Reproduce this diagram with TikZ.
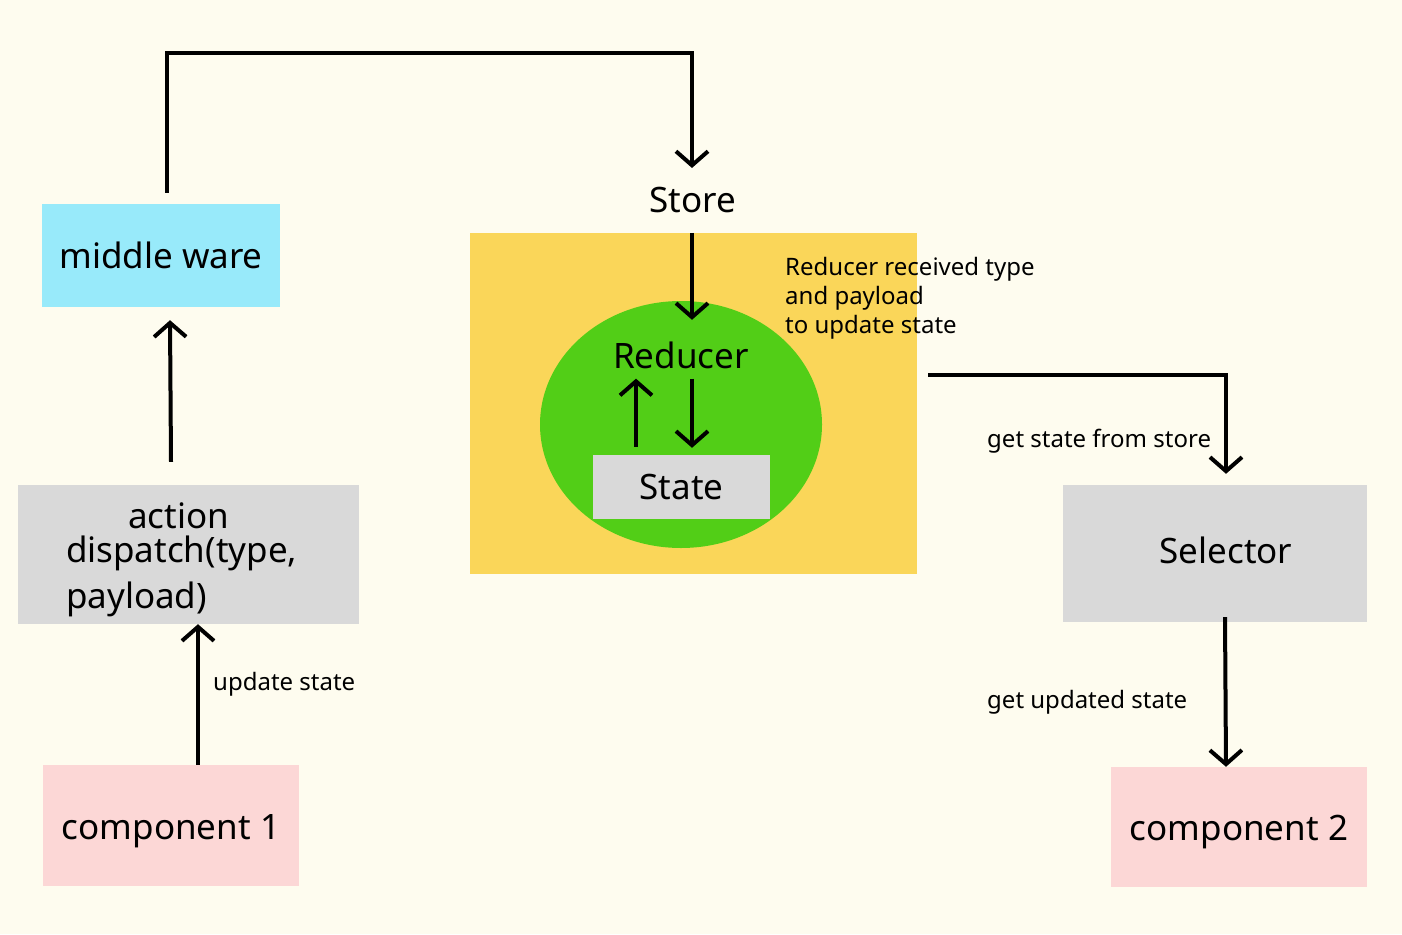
\documentclass[tikz,border=0pt]{standalone}
\usepackage{fontspec}
\setmainfont{Noto Sans}
\usetikzlibrary{arrows.meta,shapes.geometric,calc}
\definecolor{paper}{RGB}{254,252,239}
\definecolor{wareblue}{RGB}{152,234,250}
\definecolor{boxgray}{RGB}{217,217,217}
\definecolor{comppink}{RGB}{252,215,214}
\definecolor{storeyellow}{RGB}{250,214,89}
\definecolor{reducergreen}{RGB}{82,206,23}
\tikzset{
  flow/.style={line width=4pt, -{Straight Barb[length=14pt,width=32pt]}},
  box/.style={inner sep=0pt, font=\fontsize{35}{34}\selectfont},
  note/.style={inner sep=0pt, anchor=west, align=left, font=\fontsize{24}{29}\selectfont},
}
\begin{document}
\begin{tikzpicture}[x={(1pt, 0pt)}, y={(0pt, -1pt)}]
  \fill[paper] (0, 0) rectangle (1402, 934);
  \useasboundingbox (0, 0) rectangle (1402, 934);

  \node[box, fill=wareblue, minimum width=238pt, minimum height=103pt] (ware) at (161, 255.5) {middle ware};
  \node[box, fill=boxgray, minimum width=341pt, minimum height=139pt, text width=245pt, align=left] (action) at (188.5, 554.5)
    {\rule{0pt}{36pt}\hspace*{62pt}action\\dispatch(type,\\[10pt]payload)};
  \node[box, fill=comppink, minimum width=256pt, minimum height=121pt, text height=35pt, text depth=8pt] (comp1) at (171, 825.5) {component 1};

  \node[box] (store) at (693, 200) {Store};
  \node[fill=storeyellow, minimum width=447pt, minimum height=341pt, inner sep=0pt] (storebox) at (693.5, 403.5) {};
  \node[ellipse, fill=reducergreen, minimum width=282pt, minimum height=247pt, inner sep=0pt] (reducer) at (681, 424.5) {};
  \node[box] (reducertxt) at (681, 355) {Reducer};
  \node[box, fill=boxgray, minimum width=177pt, minimum height=64pt] (state) at (681.5, 487) {State};

  \node[box, fill=boxgray, minimum width=304pt, minimum height=137pt, text height=26pt, text depth=5.5pt] (selector) at (1215, 553.5) {\hspace*{22pt}Selector};
  \node[box, fill=comppink, minimum width=256pt, minimum height=120pt, text height=35pt, text depth=8pt] (comp2) at (1239, 827) {component 2};

  \node[note] (received) at (785, 298) {Reducer received type\\and payload\\to update state};
  \node[note] (update) at (213, 684) {update state};
  \node[note] (getstate) at (987, 441) {get state from store};
  \node[note] (getupdated) at (987, 702) {get updated state};

  \draw[flow] ([xshift=27pt]comp1.north) -- ([xshift=9.5pt]action.south);
  \draw[flow] ([xshift=-17.5pt, yshift=23pt]action.north) -- ([xshift=9pt, yshift=-13pt]ware.south);
  \draw[flow] ([xshift=6pt, yshift=11pt]ware.north) -- ++(0, -140) -| ($(store.north) + (-1, -19)$);
  \draw[flow] ($(storebox.north -| store.south) + (-1, 0)$) -- ($(reducer.north -| store.south) + (-1, 19)$);
  \draw[flow] ([xshift=-45.5pt, yshift=8pt]state.north) -- ([xshift=-45pt, yshift=-10pt]reducertxt.south);
  \draw[flow] ([xshift=11pt, yshift=-10pt]reducertxt.south) -- ([xshift=10.5pt, yshift=7pt]state.north);
  \draw[flow] ([xshift=11pt, yshift=28.5pt]storebox.east) -| ([xshift=11pt, yshift=11pt]selector.north);
  \draw[flow] ([xshift=10pt, yshift=5pt]selector.south) -- ([xshift=-13pt]comp2.north);
\end{tikzpicture}
\end{document}
